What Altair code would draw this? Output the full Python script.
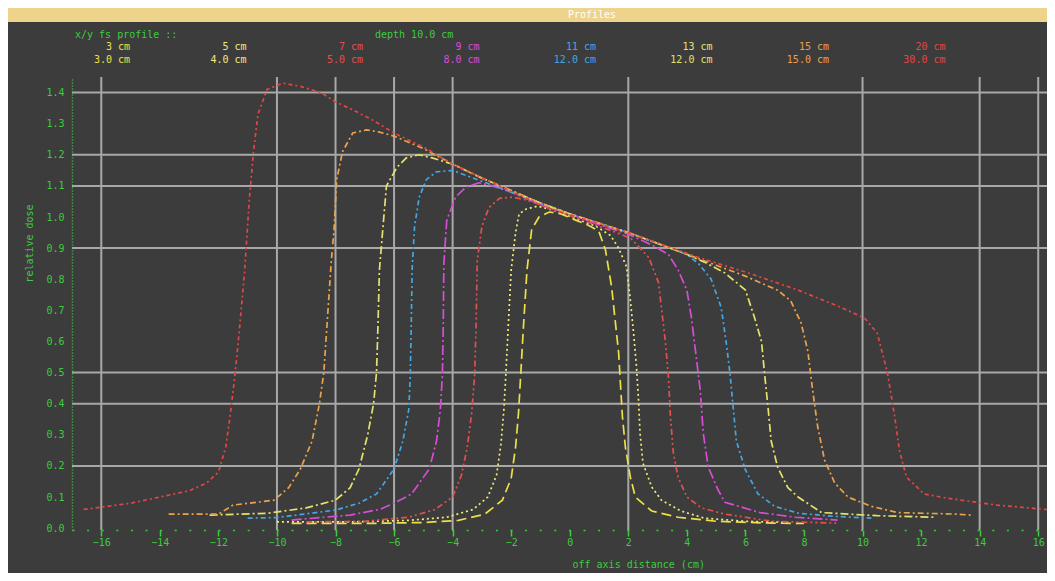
import altair as alt
import pandas as pd

# ---------------- data ----------------
SERIES = ["3 cm", "5 cm", "7 cm", "9 cm", "11 cm", "13 cm", "15 cm", "20 cm"]
ROW2 = ["3.0 cm", "4.0 cm", "5.0 cm", "8.0 cm", "12.0 cm", "12.0 cm", "15.0 cm", "30.0 cm"]

X_TICKS = [-16, -14, -12, -10, -8, -6, -4, -2, 0, 2, 4, 6, 8, 10, 12, 14, 16]
Y_TICKS = [0.0, 0.1, 0.2, 0.3, 0.4, 0.5, 0.6, 0.7, 0.8, 0.9, 1.0, 1.1, 1.2, 1.3, 1.4]
GRID_X = [-16, -10, -8, -6, -4, 2, 10, 14, 16]
GRID_Y = [1.4, 1.2, 1.1, 0.9, 0.5, 0.4, 0.2]

X1 = [-9.5, -7.0, -5.0, -3.8, -2.9, -2.3, -2.0, -1.85, -1.75, -1.67, -1.58, -1.46, -1.3, -1.05, -0.7, -0.3,
      0.2, 0.6, 0.99, 1.22, 1.43, 1.56, 1.67, 1.73, 1.8, 1.9, 2.07, 2.24, 2.8, 3.7, 5.0, 6.9, 8.0]
Y1 = [0.015, 0.015, 0.018, 0.025, 0.045, 0.09, 0.16, 0.26, 0.37, 0.50, 0.65, 0.83, 0.96, 1.0, 1.016, 1.01,
      0.99, 0.975, 0.955, 0.894, 0.775, 0.66, 0.563, 0.466, 0.357, 0.26, 0.164, 0.10, 0.055, 0.035, 0.022, 0.016, 0.015]

X2 = [-10.0, -7.5, -5.5, -4.2, -3.3, -2.8, -2.5, -2.35, -2.25, -2.18, -2.1, -2.0, -1.85, -1.73, -1.5, -1.1, -0.5,
      0.2, 0.9, 1.4, 1.67, 1.94, 2.07, 2.18, 2.28, 2.35, 2.4, 2.5, 2.8, 3.13, 3.8, 4.6, 6.0, 7.5]
Y2 = [0.02, 0.02, 0.025, 0.035, 0.06, 0.10, 0.17, 0.27, 0.38, 0.50, 0.65, 0.83, 0.95, 1.01, 1.025, 1.035, 1.02,
      0.995, 0.97, 0.94, 0.90, 0.84, 0.733, 0.627, 0.518, 0.41, 0.305, 0.209, 0.132, 0.09, 0.055, 0.032, 0.022, 0.018]

X3 = [-9.0, -7.0, -5.5, -4.6, -4.0, -3.7, -3.5, -3.35, -3.25, -3.2, -3.16, -3.0, -2.76, -2.4, -1.97, -1.5, -1.0,
      0.0, 1.0, 1.6, 2.1, 2.7, 3.03, 3.13, 3.27, 3.37, 3.44, 3.54, 3.7, 4.0, 4.5, 5.3, 6.9, 9.1]
Y3 = [0.02, 0.022, 0.035, 0.06, 0.10, 0.17, 0.26, 0.37, 0.49, 0.65, 0.86, 0.97, 1.03, 1.06, 1.064, 1.055, 1.04,
      1.005, 0.97, 0.95, 0.93, 0.87, 0.79, 0.71, 0.595, 0.486, 0.357, 0.24, 0.164, 0.10, 0.065, 0.045, 0.022, 0.016]

X4 = [-9.5, -7.5, -6.5, -6.0, -5.4, -4.8, -4.55, -4.42, -4.35, -4.32, -4.3, -4.2, -3.9, -3.55, -3.1, -2.65, -2.0,
      -1.0, 0.0, 1.0, 2.0, 2.8, 3.37, 3.7, 4.0, 4.15, 4.32, 4.46, 4.56, 4.73, 5.07, 5.3, 6.5, 7.7, 9.15]
Y4 = [0.026, 0.042, 0.06, 0.08, 0.11, 0.19, 0.28, 0.38, 0.49, 0.65, 0.85, 0.99, 1.064, 1.096, 1.11, 1.10, 1.08,
      1.04, 1.01, 0.975, 0.945, 0.91, 0.88, 0.83, 0.765, 0.68, 0.55, 0.44, 0.305, 0.196, 0.122, 0.083, 0.05, 0.035, 0.026]

X5 = [-11.0, -10.0, -8.0, -7.2, -6.6, -6.0, -5.7, -5.5, -5.45, -5.42, -5.38, -5.3, -5.14, -4.9, -4.56, -4.0, -3.44,
      -2.86, -2.0, -1.0, 0.0, 1.0, 2.0, 3.0, 4.0, 4.4, 4.83, 5.17, 5.34, 5.47, 5.58, 5.69, 6.0, 6.43, 7.0, 7.8, 9.0, 10.3]
Y5 = [0.032, 0.034, 0.058, 0.08, 0.11, 0.19, 0.28, 0.38, 0.48, 0.62, 0.84, 0.97, 1.064, 1.12, 1.145, 1.15, 1.13,
      1.11, 1.08, 1.045, 1.01, 0.98, 0.95, 0.915, 0.88, 0.85, 0.80, 0.71, 0.60, 0.50, 0.39, 0.28, 0.187, 0.11, 0.07,
      0.048, 0.038, 0.032]

X6 = [-12.3, -10.3, -9.0, -8.0, -7.5, -7.2, -6.9, -6.7, -6.6, -6.55, -6.5, -6.35, -6.26, -5.9, -5.58, -5.14, -4.7,
      -4.0, -3.0, -2.0, -1.0, 0.0, 1.0, 2.0, 3.0, 4.0, 4.6, 5.3, 6.0, 6.3, 6.55, 6.65, 6.77, 6.88, 7.1, 7.45, 7.8,
      8.6, 10.5, 12.5]
Y6 = [0.042, 0.048, 0.065, 0.09, 0.13, 0.19, 0.30, 0.40, 0.50, 0.65, 0.83, 1.0, 1.1, 1.16, 1.19, 1.20, 1.19,
      1.17, 1.125, 1.085, 1.045, 1.01, 0.98, 0.95, 0.915, 0.88, 0.855, 0.82, 0.765, 0.68, 0.60, 0.50, 0.39, 0.28,
      0.196, 0.13, 0.10, 0.05, 0.04, 0.035]

X7 = [-13.7, -12.0, -11.5, -10.1, -9.6, -9.2, -8.8, -8.55, -8.4, -8.3, -8.15, -8.05, -7.96, -7.76, -7.41, -6.94,
      -6.5, -6.0, -5.0, -4.0, -3.0, -2.0, -1.0, 0.0, 1.0, 2.0, 3.0, 4.0, 5.0, 6.0, 6.6, 7.1, 7.55, 7.9, 8.13, 8.3,
      8.47, 8.7, 9.05, 9.5, 10.3, 11.2, 13.2, 13.7]
Y7 = [0.045, 0.045, 0.074, 0.09, 0.13, 0.19, 0.28, 0.40, 0.50, 0.64, 0.85, 0.96, 1.12, 1.21, 1.27, 1.28,
      1.273, 1.26, 1.22, 1.17, 1.125, 1.085, 1.045, 1.01, 0.98, 0.95, 0.915, 0.88, 0.845, 0.81, 0.785, 0.765, 0.73,
      0.66, 0.57, 0.44, 0.325, 0.22, 0.145, 0.10, 0.07, 0.05, 0.045, 0.042]

X8 = [-16.6, -15.0, -14.0, -13.0, -12.4, -12.0, -11.75, -11.6, -11.45, -11.3, -11.1, -10.95, -10.8, -10.65, -10.34,
      -9.8, -9.2, -8.5, -8.0, -7.4, -6.7, -6.0, -4.9, -4.0, -2.4, -0.8, 2.0, 4.4, 6.1, 7.8, 9.25, 10.07, 10.5, 10.85,
      11.1, 11.26, 11.5, 12.1, 12.9, 14.6, 16.5]
Y8 = [0.06, 0.08, 0.10, 0.12, 0.145, 0.18, 0.26, 0.36, 0.48, 0.62, 0.83, 1.05, 1.21, 1.33, 1.41,
      1.43, 1.42, 1.40, 1.37, 1.344, 1.31, 1.27, 1.22, 1.17, 1.10, 1.03, 0.95, 0.87, 0.82, 0.765, 0.71, 0.675, 0.627,
      0.50, 0.357, 0.25, 0.164, 0.11, 0.096, 0.074, 0.058]

# ---------------- styles ----------------
COLORS = ["#ece046", "#f2ea7a", "#e2504e", "#d84cd8", "#44a6e2", "#e4e26a", "#eaa24c", "#e24646"]
DASHES = [[10, 5], [2, 3], [6, 3, 2, 3, 2, 3], [10, 3, 2, 3], [5, 3, 2, 3], [8, 3, 2, 3], [6, 3, 2, 3], [4, 3, 2, 3]]
BG = "#3c3c3c"
GREEN = "#3ccc3c"
GRIDC = "#a8a8a8"
FONT = "DejaVu Sans Mono"
W, H = 975, 453

curves = [(X1, Y1), (X2, Y2), (X3, Y3), (X4, Y4), (X5, Y5), (X6, Y6), (X7, Y7), (X8, Y8)]
rows = []
for name, (xs, ys) in zip(SERIES, curves):
    assert len(xs) == len(ys), name
    for i, (xv, yv) in enumerate(zip(xs, ys)):
        rows.append({"series": name, "x": xv, "y": yv, "i": i})
df = pd.DataFrame(rows)

xscale = alt.Scale(domain=[-17, 16.3], nice=False, zero=False)
yscale = alt.Scale(domain=[-0.006, 1.45], nice=False, zero=False)

ax_x = alt.Axis(values=X_TICKS, format="d", title="off axis distance (cm)", grid=False,
                domainColor=GREEN, domainDash=[2, 12.6], domainWidth=1.5,
                tickColor=GREEN, tickSize=6, tickWidth=1.5,
                labelColor=GREEN, labelFont=FONT, labelFontSize=10, labelPadding=1, labelFlush=False,
                titleColor=GREEN, titleFont=FONT, titleFontSize=10, titleFontWeight="normal",
                titleAnchor="start", titleX=500, titleY=34, titleBaseline="middle")
ax_y = alt.Axis(values=Y_TICKS, format=".1f", title="relative dose", grid=False,
                domainColor=GREEN, domainDash=[1, 2], domainWidth=1.5, ticks=False,
                labelColor=GREEN, labelFont=FONT, labelFontSize=10, labelPadding=8,
                titleColor=GREEN, titleFont=FONT, titleFontSize=10, titleFontWeight="normal",
                titleX=-43, titleY=166, titleAlign="center", titleBaseline="middle")

dummy = pd.DataFrame({"k": [0]})

layers = []
# window title bar
layers.append(alt.Chart(dummy).mark_rect(color="#eed48a").encode(
    x=alt.value(-64), x2=alt.value(W), y=alt.value(-69), y2=alt.value(-55)))
layers.append(alt.Chart(dummy).mark_text(text="Profiles", color="#ffffff", font=FONT, fontSize=10,
                                         align="center", baseline="middle").encode(
    x=alt.value(520), y=alt.value(-62)))
# legend header
layers.append(alt.Chart(dummy).mark_text(text="x/y  fs  profile ::", color=GREEN, font=FONT, fontSize=10,
                                         align="left", baseline="middle").encode(
    x=alt.value(3), y=alt.value(-42)))
layers.append(alt.Chart(dummy).mark_text(text="depth 10.0 cm", color=GREEN, font=FONT, fontSize=10,
                                         align="left", baseline="middle").encode(
    x=alt.value(303), y=alt.value(-42)))
# legend entries
for k, (lab1, lab2, col) in enumerate(zip(SERIES, ROW2, COLORS)):
    xe = 58 + k * 116.5
    layers.append(alt.Chart(dummy).mark_text(text=lab1, color=col, font=FONT, fontSize=10,
                                             align="right", baseline="middle").encode(
        x=alt.value(xe), y=alt.value(-30)))
    layers.append(alt.Chart(dummy).mark_text(text=lab2, color=col, font=FONT, fontSize=10,
                                             align="right", baseline="middle").encode(
        x=alt.value(xe), y=alt.value(-17)))

# grid lines
layers.append(alt.Chart(pd.DataFrame({"gx": GRID_X})).mark_rule(color=GRIDC, strokeWidth=2).encode(
    x=alt.X("gx:Q", scale=xscale, axis=ax_x)))
layers.append(alt.Chart(pd.DataFrame({"gy": GRID_Y})).mark_rule(color=GRIDC, strokeWidth=2).encode(
    y=alt.Y("gy:Q", scale=yscale, axis=ax_y)))

# profiles
layers.append(alt.Chart(df).mark_line(strokeWidth=1.7, clip=True).encode(
    x=alt.X("x:Q", scale=xscale, axis=ax_x),
    y=alt.Y("y:Q", scale=yscale, axis=ax_y),
    color=alt.Color("series:N", scale=alt.Scale(domain=SERIES, range=COLORS), legend=None),
    strokeDash=alt.StrokeDash("series:N", scale=alt.Scale(domain=SERIES, range=DASHES), legend=None),
    order=alt.Order("i:Q"),
))

chart = alt.layer(*layers).properties(
    width=W, height=H,
    padding={"left": 64, "top": 69, "right": 0, "bottom": 43},
    autosize=alt.AutoSizeParams(type="none"),
    background=BG,
).configure_view(fill=BG, stroke=None)

chart.save("out.html", embed_options={"renderer": "svg", "actions": False})
